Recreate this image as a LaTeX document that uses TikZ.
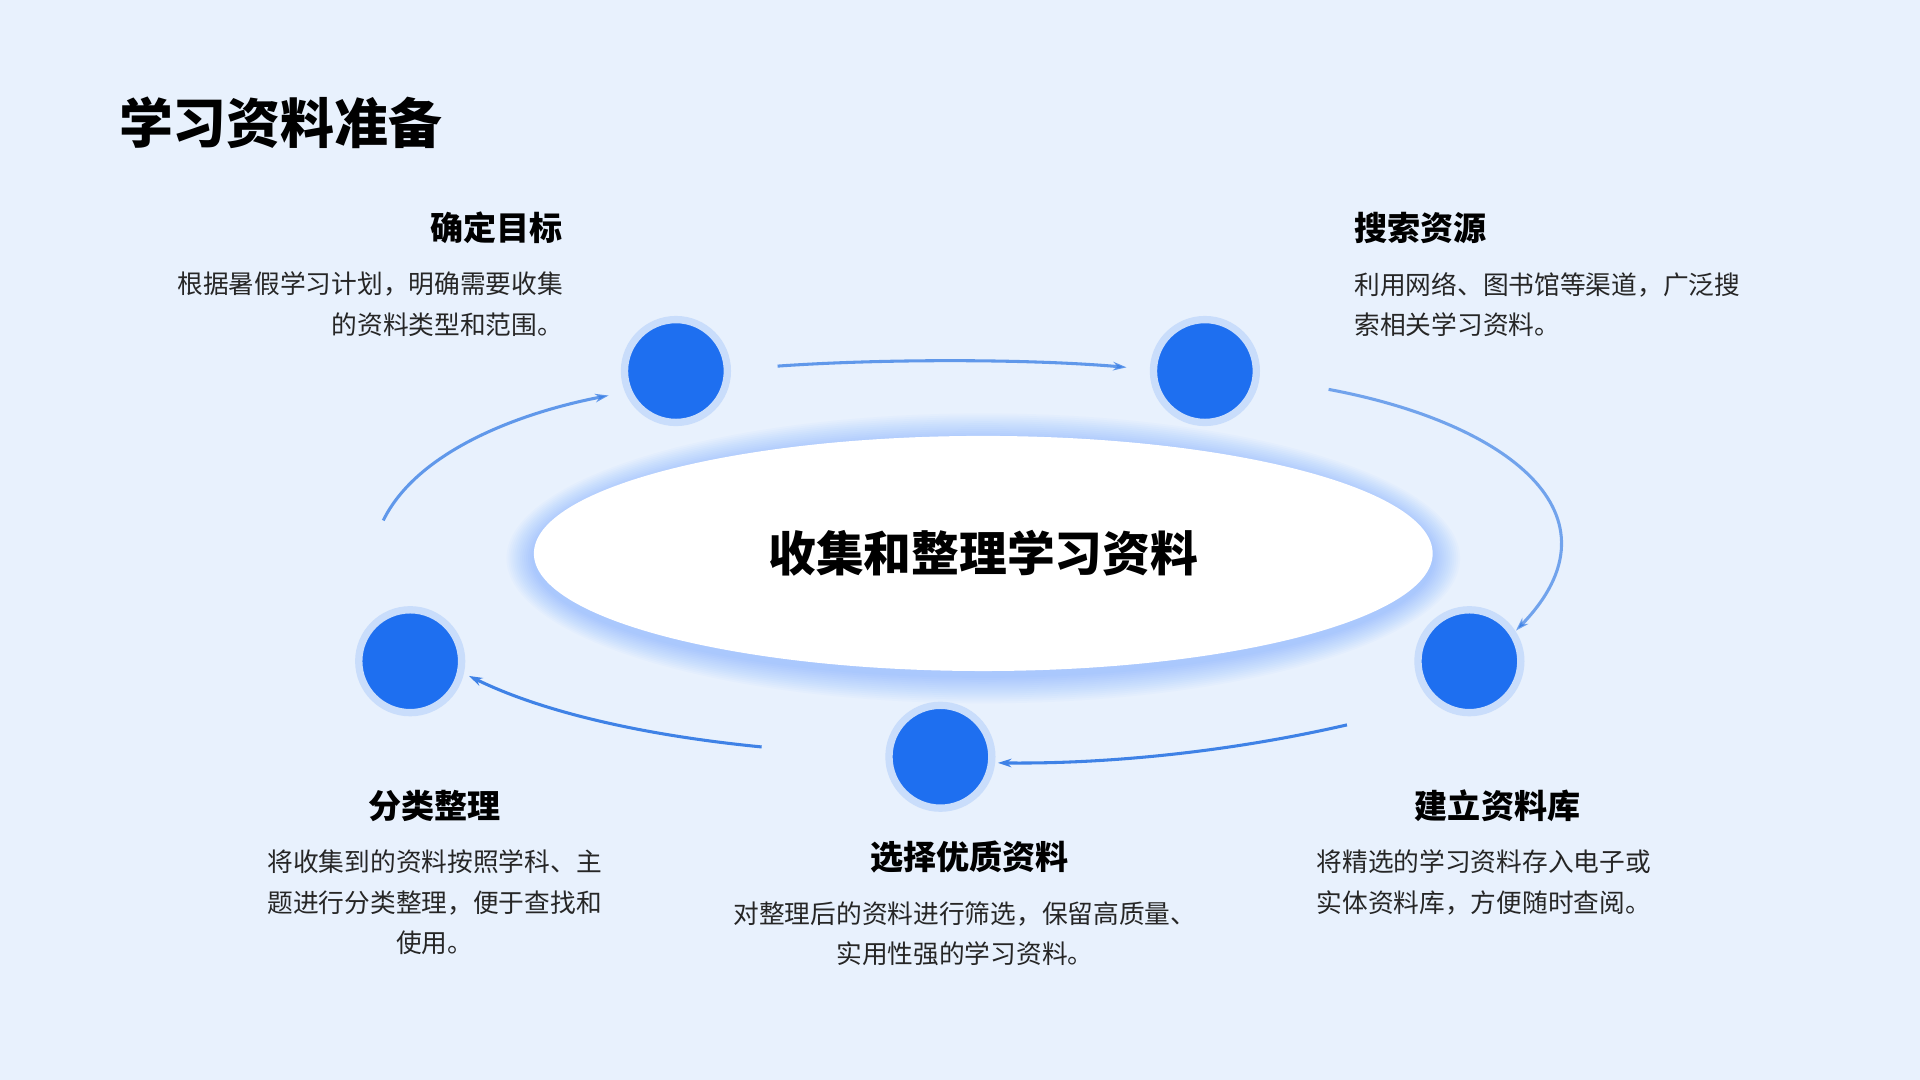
\documentclass[tikz,border=0pt]{standalone}
\usepackage{fontspec}
\setmainfont{Noto Sans CJK SC}
\usetikzlibrary{arrows.meta,shapes.geometric}
\definecolor{bg}{HTML}{E8F1FD}
\definecolor{dot}{HTML}{1E6FF0}
\definecolor{halo}{HTML}{C9DDFB}
\definecolor{arr}{HTML}{3F82E6}
\tikzset{
 dotnode/.style={circle,fill=dot,minimum size=84pt,inner sep=0pt,draw=halo,line width=6pt},
 head/.style={font=\fontsize{27}{32}\selectfont\bfseries},
 desc/.style={font=\fontsize{21}{33}\selectfont,text=black!85,inner sep=0pt},
 flow/.style={arr,line width=2.5pt,-{Stealth[length=11pt,width=7pt]}}
}
\begin{document}
\begin{tikzpicture}[x=1pt,y=-1pt]
\fill[bg] (0,0) rectangle (1568,882);
\useasboundingbox (0,0) rectangle (1568,882);
\node[anchor=west,font=\fontsize{44}{50}\selectfont\bfseries,inner sep=0pt] (title) at (97,100) {学习资料准备};
% ellipse glow
\foreach \i in {1,...,14}{
  \fill[blue!60!cyan,opacity=0.018] (803,456) ellipse ({367+1.6*\i} and {96+1.6*\i});
}
\node[ellipse,fill=white,minimum width=734pt,minimum height=192pt] (core) at (803,452) {};
\node[font=\fontsize{39}{44}\selectfont\bfseries] (coretxt) at (803,452) {收集和整理学习资料};
\node[dotnode] (c1) at (552,303) {};
\node[dotnode] (c2) at (984,303) {};
\node[dotnode] (c3) at (1200,540) {};
\node[dotnode] (c4) at (768,618) {};
\node[dotnode] (c5) at (335,540) {};
\coordinate (s1) at (635,299);
\coordinate (s2) at (1085,318);
\coordinate (s3) at (1100,592);
\coordinate (s4) at (622,610);
\coordinate (s5) at (313,425);
\draw[flow,draw opacity=0.8] (s1) .. controls (720,293) and (840,293) .. (920,300);
\draw[flow,draw opacity=0.7] (s2) .. controls (1230,345) and (1330,420) .. (1238,515);
\draw[flow] (s3) .. controls (1000,615) and (900,624) .. (815,623);
\draw[flow] (s4) .. controls (520,600) and (440,580) .. (383,552);
\draw[flow,draw opacity=0.8] (s5) .. controls (340,370) and (420,338) .. (497,323);
% labels
\node[head,anchor=east,inner sep=0pt] (h1) at (460,186) {确定目标};
\node[desc,anchor=north east,align=right] (d1) at (460,222) {根据暑假学习计划，明确需要收集\\的资料类型和范围。};
\node[head,anchor=west,inner sep=0pt] (h2) at (1106,186) {搜索资源};
\node[desc,anchor=north west,align=left] (d2) at (1106,222) {利用网络、图书馆等渠道，广泛搜\\索相关学习资料。};
\node[head,inner sep=0pt] (h3) at (1223,658) {建立资料库};
\node[desc,anchor=north west,align=left] (d3) at (1075,694) {将精选的学习资料存入电子或\\实体资料库，方便随时查阅。};
\node[head,inner sep=0pt] (h4) at (792,700) {选择优质资料};
\node[desc,anchor=north,align=center] (d4) at (788,736) {对整理后的资料进行筛选，保留高质量、\\实用性强的学习资料。};
\node[head,inner sep=0pt] (h5) at (355,658) {分类整理};
\node[desc,anchor=north,align=center] (d5) at (355,694) {将收集到的资料按照学科、主\\题进行分类整理，便于查找和\\使用。};
\end{tikzpicture}
\end{document}
